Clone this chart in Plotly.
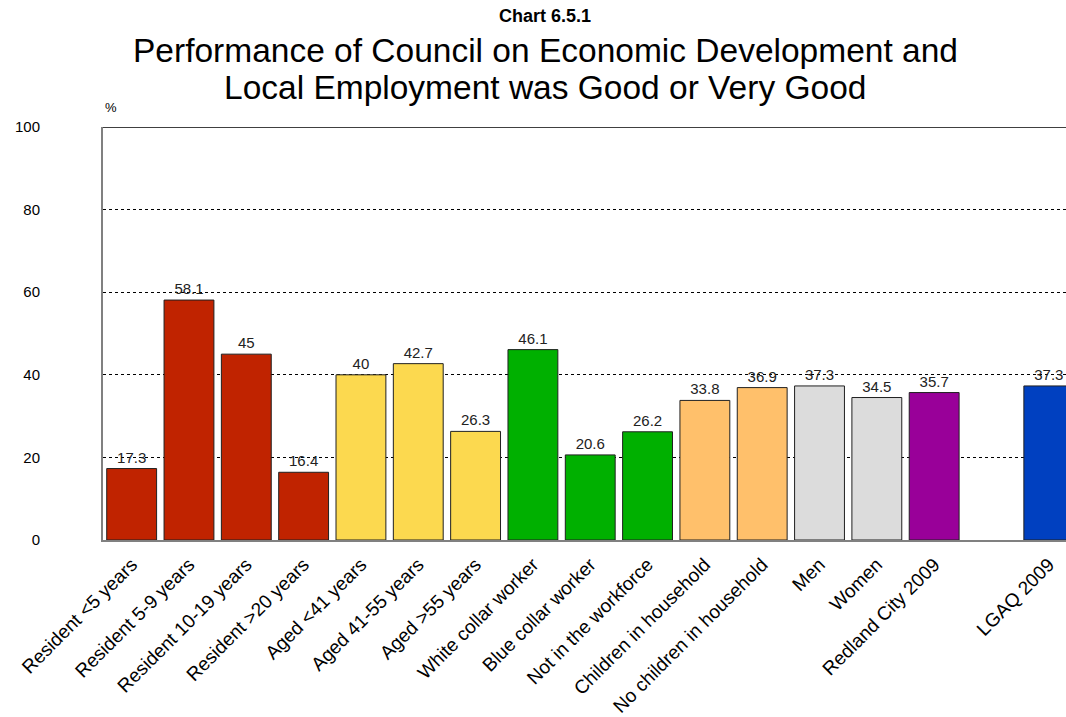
import plotly.graph_objects as go

# Survey groups (an empty slot separates the LGAQ benchmark)
categories = [
    "Resident <5 years", "Resident 5-9 years", "Resident 10-19 years",
    "Resident >20 years", "Aged <41 years", "Aged 41-55 years", "Aged >55 years",
    "White collar worker", "Blue collar worker", "Not in the workforce",
    "Children in household", "No children in household", "Men", "Women",
    "Redland City 2009", " ", "LGAQ 2009",
]
values = [17.3, 58.1, 45, 16.4, 40, 42.7, 26.3, 46.1, 20.6, 26.2,
          33.8, 36.9, 37.3, 34.5, 35.7, None, 37.3]

RED, YELLOW, GREEN = "#C02300", "#FCD94F", "#00B000"
ORANGE, GREY, PURPLE, BLUE = "#FFC06B", "#DCDCDC", "#990099", "#0040C0"
bar_colors = [RED] * 4 + [YELLOW] * 3 + [GREEN] * 3 + [ORANGE] * 2 + \
             [GREY] * 2 + [PURPLE, "white", BLUE]

y_ticks = [0, 20, 40, 60, 80, 100]

FONT = "Liberation Sans, Arial, sans-serif"

fig = go.Figure(
    go.Bar(
        x=categories,
        y=values,
        width=0.87,
        marker=dict(color=bar_colors, line=dict(color="#202020", width=1)),
        text=[("" if v is None else f"{v:g}") for v in values],
        textposition="outside",
        textfont=dict(family=FONT, size=15, color="#222222"),
        cliponaxis=False,
        hoverinfo="x+y",
    )
)

fig.update_layout(
    width=1066,
    height=717,
    margin=dict(l=103, r=0, t=127, b=177),
    paper_bgcolor="white",
    plot_bgcolor="white",
    showlegend=False,
    font=dict(family=FONT, color="black"),
)

fig.update_xaxes(
    type="category",
    range=[-0.5, 16.3],
    automargin=False,
    tickangle=-45,
    tickfont=dict(family=FONT, size=19, color="black"),
    ticklabelstandoff=4,
    showline=True,
    linecolor="#808080",
    linewidth=2,
    showgrid=False,
    ticks="",
)

fig.update_yaxes(
    range=[0, 100],
    automargin=False,
    tickvals=y_ticks,
    tickfont=dict(family=FONT, size=15, color="black"),
    ticklabelstandoff=58,
    showline=True,
    linecolor="#808080",
    linewidth=2,
    showgrid=True,
    gridcolor="#000000",
    gridwidth=1,
    griddash="3px,3px",
    zeroline=False,
    ticks="",
)

# Solid frame line along the top of the plot area
fig.add_shape(type="line", xref="paper", yref="y", x0=0, x1=1, y0=100, y1=100,
              line=dict(color="black", width=1.5))

# Titles and unit label, positioned in paper units above the plot area
PLOT_H = 717 - 127 - 177
CX = (545 - 103) / 963


def above(px):
    """Paper y for a page pixel row above the plot area."""
    return 1 + (127 - px) / PLOT_H


fig.add_annotation(text="<b>Chart 6.5.1</b>", xref="paper", yref="paper",
                   x=CX, y=above(16), showarrow=False,
                   xanchor="center", yanchor="middle",
                   font=dict(family=FONT, size=18, color="black"))
fig.add_annotation(text="Performance of Council on Economic Development and",
                   xref="paper", yref="paper", x=CX, y=above(50),
                   showarrow=False, xanchor="center", yanchor="middle",
                   font=dict(family=FONT, size=33.5, color="black"))
fig.add_annotation(text="Local Employment was Good or Very Good",
                   xref="paper", yref="paper", x=CX, y=above(88),
                   showarrow=False, xanchor="center", yanchor="middle",
                   font=dict(family=FONT, size=33.5, color="black"))
fig.add_annotation(text="%", xref="paper", yref="paper",
                   x=(111 - 103) / 963, y=above(108), showarrow=False,
                   xanchor="center", yanchor="middle",
                   font=dict(family=FONT, size=13, color="black"))

fig.write_html("out.html")
